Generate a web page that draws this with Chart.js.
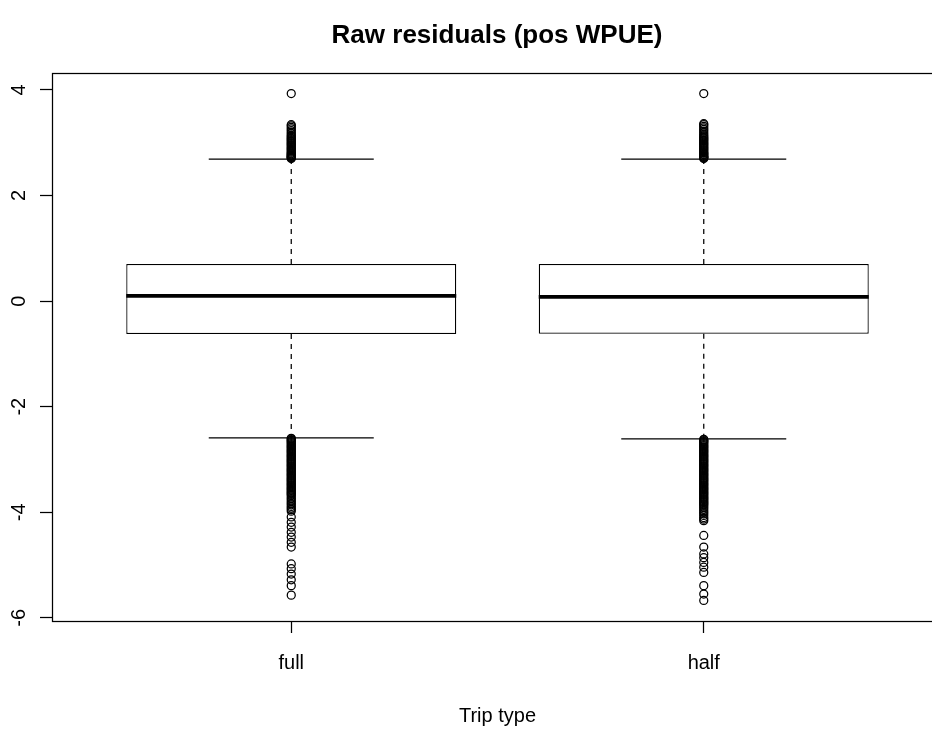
<!DOCTYPE html>
<html>
<head>
<meta charset="utf-8">
<script src="https://cdn.jsdelivr.net/npm/chart.js@4/dist/chart.umd.min.js"></script>
<style>
html,body{margin:0;padding:0;overflow:hidden;background:#fff;}
#wrap{width:994px;height:734px;}
</style>
</head>
<body>
<div id="wrap"><canvas id="c" width="994" height="734"></canvas></div>
<script>
// ---- data ----
const categories = ['full', 'half'];
const q1 = [-0.625, -0.62];
const medians = [0.10, 0.08];
const q3 = [0.70, 0.70];
const whiskerLow = [-2.59, -2.61];
const whiskerHigh = [2.69, 2.69];
const outliersFull = [
  2.70,2.71,2.72,2.73,2.74,2.75,2.76,2.77,2.79,2.80,2.82,2.84,2.86,2.88,2.90,2.92,2.94,2.96,2.98,3.00,
  3.02,3.04,3.06,3.08,3.10,3.12,3.14,3.17,3.20,3.23,3.26,3.29,3.32,3.34,3.93,
  -2.60,-2.61,-2.63,-2.64,-2.66,-2.68,-2.70,-2.72,-2.74,-2.76,-2.78,-2.80,-2.82,-2.84,-2.86,-2.88,-2.90,
  -2.92,-2.94,-2.96,-2.98,-3.00,-3.02,-3.04,-3.06,-3.08,-3.10,-3.12,-3.14,-3.16,-3.18,-3.20,-3.22,-3.24,
  -3.26,-3.28,-3.30,-3.32,-3.34,-3.36,-3.38,-3.40,-3.42,-3.44,-3.46,-3.48,-3.50,-3.52,-3.54,-3.56,-3.58,
  -3.60,-3.62,-3.64,-3.66,-3.68,-3.71,-3.74,-3.77,-3.80,-3.83,-3.86,-3.89,-3.92,-3.95,-3.98,
  -4.09,-4.19,-4.28,-4.38,-4.47,-4.57,-4.66,-4.98,-5.07,-5.17,-5.28,-5.39,-5.57
];
const outliersHalf = [
  2.70,2.71,2.72,2.73,2.74,2.75,2.77,2.78,2.80,2.81,2.83,2.85,2.87,2.89,2.91,2.93,2.95,2.97,2.99,3.01,
  3.03,3.05,3.07,3.09,3.11,3.13,3.16,3.19,3.22,3.25,3.28,3.31,3.34,3.36,3.93,
  -2.62,-2.63,-2.65,-2.66,-2.68,-2.70,-2.72,-2.74,-2.76,-2.78,-2.80,-2.82,-2.84,-2.86,-2.88,-2.90,-2.92,
  -2.94,-2.96,-2.98,-3.00,-3.02,-3.04,-3.06,-3.08,-3.10,-3.12,-3.14,-3.16,-3.18,-3.20,-3.22,-3.24,-3.26,
  -3.28,-3.30,-3.32,-3.34,-3.36,-3.38,-3.40,-3.42,-3.44,-3.46,-3.48,-3.50,-3.52,-3.54,-3.56,-3.58,-3.60,
  -3.62,-3.64,-3.66,-3.68,-3.70,-3.72,-3.74,-3.76,-3.78,-3.80,-3.82,-3.84,-3.86,-3.88,-3.91,-3.94,-3.97,
  -4.00,-4.03,-4.06,-4.10,-4.13,-4.16,
  -4.44,-4.66,-4.79,-4.86,-4.95,-5.04,-5.14,-5.39,-5.55,-5.67
];
const outliers = [outliersFull, outliersHalf];
const yTickValues = [-6, -4, -2, 0, 2, 4];
const titleText = 'Raw residuals (pos WPUE)';
const xTitleText = 'Trip type';

// ---- build datasets ----
const FONT = "'Liberation Sans', Arial, Helvetica, sans-serif";
const HALF = 0.4, CAP = 0.2, LW = 1.25;
function segs(fn) {
  const pts = [];
  categories.forEach((c, i) => {
    if (i > 0) pts.push({x: i + 0.5, y: null});
    fn(i).forEach(p => pts.push(p));
  });
  return pts;
}
const lineBase = {type: 'line', borderColor: '#000', pointRadius: 0, spanGaps: false, fill: false, tension: 0};

const datasets = [
  {
    type: 'bar',
    label: 'box',
    data: categories.map((c, i) => ({x: i + 1, y: [q1[i], q3[i]]})),
    backgroundColor: '#fff',
    borderColor: '#000',
    borderWidth: LW,
    borderSkipped: false,
    barPercentage: 0.8,
    categoryPercentage: 1,
    order: 5
  },
  Object.assign({}, lineBase, {
    label: 'upper whisker',
    data: segs(i => [{x: i + 1, y: q3[i]}, {x: i + 1, y: whiskerHigh[i]}]),
    borderWidth: LW, borderDash: [5, 5], order: 6
  }),
  Object.assign({}, lineBase, {
    label: 'lower whisker',
    data: segs(i => [{x: i + 1, y: q1[i]}, {x: i + 1, y: whiskerLow[i]}]),
    borderWidth: LW, borderDash: [5, 5], order: 6
  }),
  Object.assign({}, lineBase, {
    label: 'upper cap',
    data: segs(i => [{x: i + 1 - CAP, y: whiskerHigh[i]}, {x: i + 1 + CAP, y: whiskerHigh[i]}]),
    borderWidth: LW, order: 4
  }),
  Object.assign({}, lineBase, {
    label: 'lower cap',
    data: segs(i => [{x: i + 1 - CAP, y: whiskerLow[i]}, {x: i + 1 + CAP, y: whiskerLow[i]}]),
    borderWidth: LW, order: 4
  }),
  Object.assign({}, lineBase, {
    label: 'median',
    data: segs(i => [{x: i + 1 - HALF, y: medians[i]}, {x: i + 1 + HALF, y: medians[i]}]),
    borderWidth: 3.75, borderCapStyle: 'butt', order: 3
  })
];
outliers.forEach((arr, i) => {
  datasets.push({
    type: 'scatter',
    label: 'outliers ' + categories[i],
    data: arr.map(v => ({x: i + 1, y: v})),
    pointStyle: 'circle',
    pointRadius: 4,
    pointBorderWidth: LW,
    pointBackgroundColor: 'rgba(0,0,0,0)',
    pointBorderColor: '#000',
    showLine: false,
    order: 1
  });
});

const framePlugin = {
  id: 'frame',
  afterDatasetsDraw(chart) {
    const {ctx, chartArea: a} = chart;
    ctx.save();
    ctx.strokeStyle = '#000';
    ctx.lineWidth = LW;
    ctx.strokeRect(Math.round(a.left) + 0.5, Math.round(a.top) + 0.5,
                   Math.round(a.right - a.left), Math.round(a.bottom - a.top));
    ctx.restore();
  }
};

new Chart(document.getElementById('c'), {
  type: 'scatter',
  data: {datasets},
  options: {
    responsive: false,
    animation: false,
    events: [],
    layout: {padding: 0},
    plugins: {
      legend: {display: false},
      tooltip: {enabled: false},
      title: {
        display: true,
        text: titleText,
        color: '#000',
        font: {family: FONT, size: 26, weight: 'bold', lineHeight: 1.2},
        padding: {top: 20, bottom: 21.8}
      }
    },
    scales: {
      x: {
        type: 'linear',
        min: 0.42,
        max: 2.58,
        offset: false,
        afterBuildTicks(scale) { scale.ticks = categories.map((c, i) => ({value: i + 1})); },
        afterFit(scale) { scale.height = 113; },
        ticks: {
          color: '#000',
          font: {family: FONT, size: 20},
          padding: 18,
          autoSkip: false,
          maxRotation: 0,
          callback: (v) => categories[v - 1]
        },
        grid: {display: true, drawOnChartArea: false, drawTicks: true, tickLength: 12, tickColor: '#000', tickWidth: LW, offset: false},
        border: {display: false},
        title: {
          display: true,
          text: xTitleText,
          color: '#000',
          font: {family: FONT, size: 20, lineHeight: 1.2},
          padding: {top: 0, bottom: 6}
        }
      },
      y: {
        type: 'linear',
        position: 'left',
        min: -6.06,
        max: 4.32,
        afterBuildTicks(scale) { scale.ticks = yTickValues.map(v => ({value: v})); },
        afterFit(scale) { scale.width = 52; },
        ticks: {
          color: '#000',
          font: {family: FONT, size: 20},
          padding: 12,
          minRotation: 90,
          maxRotation: 90,
          crossAlign: 'center',
          autoSkip: false,
          callback: (v) => String(v)
        },
        grid: {display: true, drawOnChartArea: false, drawTicks: true, tickLength: 12, tickColor: '#000', tickWidth: LW},
        border: {display: false}
      },
      yRightMargin: {
        type: 'linear',
        position: 'right',
        display: true,
        afterFit(scale) { scale.width = 51; },
        ticks: {display: false},
        grid: {display: false, drawTicks: false},
        border: {display: false}
      }
    }
  },
  plugins: [framePlugin]
});
</script>
</body>
</html>
